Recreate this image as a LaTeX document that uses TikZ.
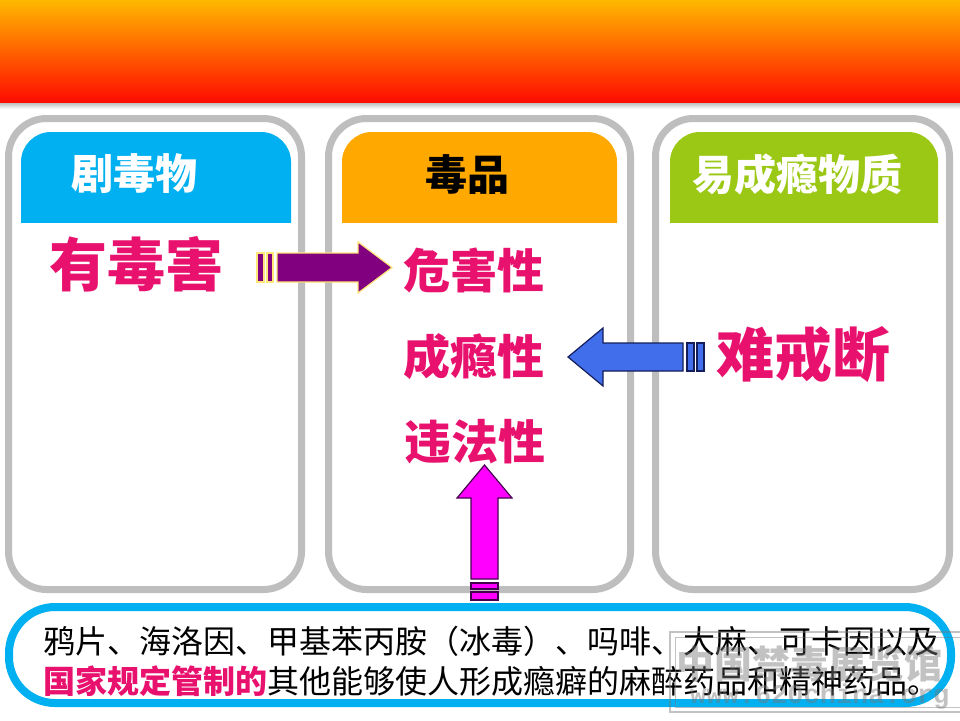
\documentclass[tikz,border=0pt]{standalone}
\usepackage{fontspec}
\newfontfamily\cjk{Noto Sans CJK SC}
\newfontfamily\wmmono{Liberation Mono}
\definecolor{bannerTop}{RGB}{255,184,0}
\definecolor{bannerMid}{RGB}{255,120,0}
\definecolor{bannerBot}{RGB}{255,10,0}
\definecolor{panelGray}{RGB}{190,190,190}
\definecolor{cyanH}{RGB}{0,176,240}
\definecolor{orangeH}{RGB}{255,168,0}
\definecolor{greenH}{RGB}{155,200,20}
\definecolor{redT}{RGB}{232,18,110}
\definecolor{purpleA}{RGB}{128,0,128}
\definecolor{purpleLine}{RGB}{255,230,120}
\definecolor{blueA}{RGB}{65,110,235}
\definecolor{blueLine}{RGB}{20,30,90}
\definecolor{magA}{RGB}{255,0,255}
\definecolor{magLine}{RGB}{70,0,80}
\definecolor{wmGray}{RGB}{120,120,120}
\tikzset{
  panelbox/.style={draw=panelGray, line width=7, rounded corners=38},
  headtext/.style={font=\cjk\bfseries\fontsize{42}{48}\selectfont, inner sep=0},
  bigred/.style={font=\cjk\bfseries\fontsize{58}{64}\selectfont, text=redT, inner sep=0},
  midred/.style={font=\cjk\bfseries\fontsize{47}{52}\selectfont, text=redT, inner sep=0},
  bodytext/.style={font=\cjk\fontsize{32}{40}\selectfont, anchor=west, inner sep=0},
  purplearrow/.style={fill=purpleA, draw=purpleLine, line width=1.2},
  bluearrow/.style={fill=blueA, draw=blueLine, line width=1.2},
  magarrow/.style={fill=magA, draw=magLine, line width=1.2},
}
\begin{document}
\begin{tikzpicture}[x=1pt,y=-1pt]
\useasboundingbox (0,0) rectangle (960,720);
\fill[white] (0,0) rectangle (960,720);
% banner
\shade[top color=bannerTop, middle color=bannerMid, bottom color=bannerBot] (0,0) rectangle (960,103);
\shade[top color=black!25, bottom color=white] (0,103) rectangle (960,109);
% panels
\draw[panelbox] (8.5,118.5) rectangle (301.5,589.5);
\draw[panelbox] (328.5,118.5) rectangle (630.5,589.5);
\draw[panelbox] (655.5,118.5) rectangle (949.5,589.5);
% headers
\begin{scope}
\clip (0,0) rectangle (960,222);
\fill[cyanH, rounded corners=30] (21,132) rectangle (291,270);
\fill[orangeH, rounded corners=30] (342,132) rectangle (617,270);
\fill[greenH, rounded corners=30] (670,132) rectangle (938,270);
\end{scope}
\node[headtext, text=white] (h1) at (134,174) {剧毒物};
\node[headtext, text=black] (h2) at (467,175) {毒品};
\node[headtext, text=white] (h3) at (797,174) {易成瘾物质};
% texts
\node[bigred] (youdu) at (136,264) {有毒害};
\node[bigred] (nanjie) at (803,355) {难戒断};
\node[midred] (weihai) at (474,270) {危害性};
\node[midred] (chengyin) at (474,357) {成瘾性};
\node[midred] (weifa) at (475,442) {违法性};
% purple arrow  (有毒害 -> 危害性)
\filldraw[purplearrow] (257,253) rectangle (264,282);
\filldraw[purplearrow] (267,253) rectangle (273,282);
\filldraw[purplearrow] (277,253) -- (358,253) -- (358,242) -- (392,267.5) -- (358,293) -- (358,282) -- (277,282) -- cycle;
% blue arrow (难戒断 -> 成瘾性)
\filldraw[bluearrow] (697,343) rectangle (704,371);
\filldraw[bluearrow] (687,343) rectangle (694,371);
\filldraw[bluearrow] (683,343) -- (603,343) -- (603,328) -- (568,357) -- (603,386) -- (603,371) -- (683,371) -- cycle;
% magenta arrow (box -> 违法性)
\filldraw[magarrow] (471,592) rectangle (498,600);
\filldraw[magarrow] (471,583) rectangle (498,589);
\filldraw[magarrow] (471,579) -- (471,498) -- (457,498) -- (484.5,465) -- (512,498) -- (498,498) -- (498,579) -- cycle;
% bottom box
\draw[cyanH, line width=8, rounded corners=46] (9,607) rectangle (951,703);
\node[bodytext] (l1) at (43,641) {鸦片、海洛因、甲基苯丙胺（冰毒）、吗啡、大麻、可卡因以及};
\node[bodytext] (l2) at (43,681) {{\bfseries\color{redT}国家规定管制的}其他能够使人形成瘾癖的麻醉药品和精神药品。};
% watermark
\begin{scope}[opacity=0.45]
\draw[wmGray, line width=1.5] (670,632) rectangle (970,712);
\draw[wmGray, line width=1] (675,637) rectangle (970,707);
\node[font=\cjk\bfseries\fontsize{38}{40}\selectfont, text=wmGray, anchor=west, inner sep=0] (wm1) at (676,664) {中国禁毒展览馆};
\node[font=\wmmono\bfseries\fontsize{27}{28}\selectfont, text=wmGray, anchor=west, inner sep=0] (wm2) at (690,697) {www.620china.org};
\end{scope}
\end{tikzpicture}
\end{document}
